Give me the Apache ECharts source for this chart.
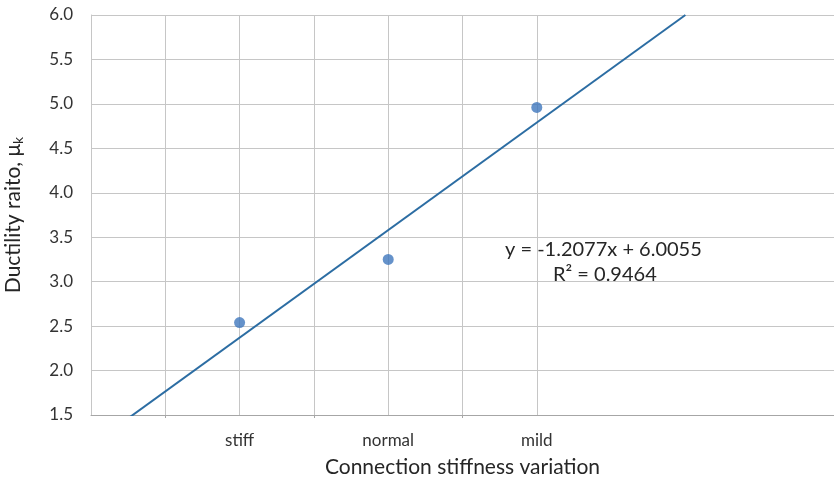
<!DOCTYPE html>
<html>
<head>
<meta charset="utf-8">
<title>Ductility ratio</title>
<script src="https://cdn.jsdelivr.net/npm/echarts@6/dist/echarts.min.js"></script>
<style>
    html, body { margin: 0; padding: 0; background: #fff; }
    #main { width: 834px; height: 484px; }
</style>
</head>
<body>
<div id="main"></div>
<script>
// data
var categories = ['stiff', 'normal', 'mild'];
var ductility = [2.54, 3.25, 4.96];
// trendline end points (x in category units, stiff = 1)
var trendX = [0, 4];
var trendY = [1.16, 6.0];
var equationText = 'y = -1.2077x + 6.0055';
var r2Text = 'R\u00b2 = 0.9464';

var FONT = 'Lato';

// half-category slots 0, 0.5, ... 5 for grid lines and labels
var slots = [];
for (var i = 0; i <= 10; i++) {
    slots.push(i % 2 === 0 && i / 2 >= 1 && i / 2 <= categories.length ? categories[i / 2 - 1] : '');
}

var points = [];
categories.forEach(function (item, index) {
    points.push([index + 1, ductility[index]]);
});
var trend = [];
trendX.forEach(function (item, index) {
    trend.push([item, trendY[index]]);
});

var myChart = echarts.init(document.getElementById('main'));
var option = {
    animation: false,
    grid: {
        left: 91,
        right: 0,
        top: 15,
        bottom: 69,
        containLabel: false,
        outerBoundsMode: 'none'
    },
    xAxis: [{
        type: 'category',
        data: slots,
        boundaryGap: false,
        name: 'Connection stiffness variation',
        nameLocation: 'middle',
        nameGap: 42,
        nameTextStyle: { fontFamily: FONT, fontSize: 21, color: '#262626' },
        axisLine: { lineStyle: { color: '#a6a6a6', width: 1 } },
        axisTick: {
            length: 3,
            interval: function (index) { return index % 2 === 1 && index <= 5; },
            lineStyle: { color: '#a6a6a6' }
        },
        axisLabel: {
            interval: 0,
            margin: 17,
            fontFamily: FONT,
            fontSize: 17,
            color: '#333333'
        },
        splitLine: {
            show: true,
            interval: function (index) { return index <= 6; },
            lineStyle: { color: '#c6c6c6', width: 1 }
        }
    }, {
        type: 'value',
        min: 0,
        max: 5,
        show: false
    }],
    yAxis: {
        type: 'value',
        min: 1.5,
        max: 6,
        interval: 0.5,
        name: '{a|Ductility raito, \u03bc}{s|k}',
        nameLocation: 'middle',
        nameGap: 66,
        nameRotate: 90,
        nameTextStyle: {
            rich: {
                a: { fontFamily: FONT, fontSize: 21, color: '#262626' },
                s: { fontFamily: FONT, fontSize: 14, color: '#262626', verticalAlign: 'bottom', padding: [9, 0, 0, 0] }
            }
        },
        axisLine: { show: true, lineStyle: { color: '#c6c6c6' } },
        axisTick: { show: false },
        axisLabel: {
            margin: 18,
            fontFamily: FONT,
            fontSize: 17,
            color: '#333333',
            formatter: function (v) { return v.toFixed(1); }
        },
        splitLine: { lineStyle: { color: '#c6c6c6', width: 1 } }
    },
    graphic: [{
        type: 'text',
        left: 505,
        top: 240,
        style: { text: equationText, font: '20px ' + FONT, fill: '#262626' }
    }, {
        type: 'text',
        left: 553,
        top: 265,
        style: { text: r2Text, font: '20px ' + FONT, fill: '#262626' }
    }],
    series: [{
        type: 'line',
        xAxisIndex: 1,
        data: trend,
        symbol: 'none',
        clip: true,
        lineStyle: { color: '#2c6da3', width: 2 },
        silent: true
    }, {
        type: 'scatter',
        xAxisIndex: 1,
        data: points,
        symbolSize: 11,
        itemStyle: { color: '#3f77bd' }
    }]
};
myChart.setOption(option);
window.addEventListener("resize", function () { myChart.resize(); });
</script>
</body>
</html>
